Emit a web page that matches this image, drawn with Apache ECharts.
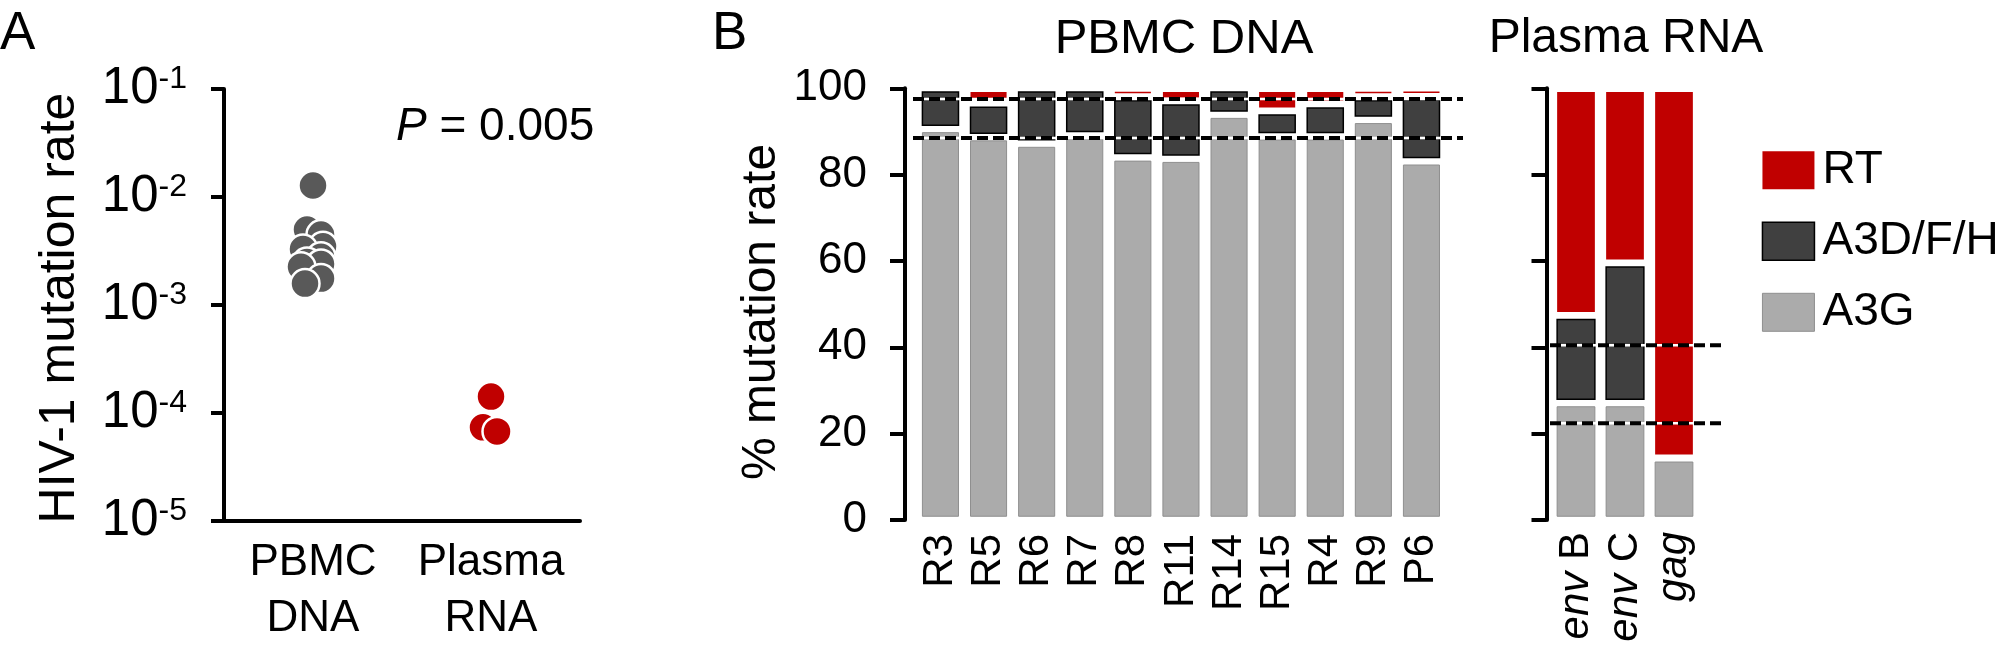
<!DOCTYPE html>
<html>
<head>
<meta charset="utf-8">
<title>HIV-1 mutation rate</title>
<script src="https://cdn.jsdelivr.net/npm/echarts@6/dist/echarts.min.js"></script>
<style>
html, body { margin: 0; padding: 0; background: #fff; }
#chart { width: 2000px; height: 647px; }
</style>
</head>
<body>
<div id="chart"></div>
<script>
// A: mutation rate per sample
var groupNames = ['PBMC\nDNA', 'Plasma\nRNA']
var pbmcRates = [0.0128, 0.0050, 0.0045, 0.0035, 0.0033, 0.0028, 0.0025, 0.0024, 0.00226, 0.00176, 0.00158]
var plasmaRates = [0.000142, 0.0000738, 0.0000676]
var pValue = '0.005'

// B: share of mutations (%)
var pbmcSamples = ['R3', 'R5', 'R6', 'R7', 'R8', 'R11', 'R14', 'R15', 'R4', 'R9', 'P6']
var pbmcA3G = [90.6, 88.7, 87.2, 89.1, 84.0, 83.7, 93.9, 88.9, 88.9, 92.7, 83.1]
var pbmcA3DFH = [9.4, 7.8, 12.8, 10.9, 14.0, 13.3, 6.1, 5.8, 7.4, 5.3, 15.1]
var pbmcRT = [0, 3.5, 0, 0, 2.0, 3.0, 0, 5.3, 3.7, 2.0, 1.8]
var plasmaGenes = ['env B', 'env C', 'gag']
var plasmaA3G = [27.1, 27.1, 14.3]
var plasmaA3DFH = [20.2, 32.4, 0]
var plasmaRT = [52.7, 40.5, 85.7]
var pbmcMeans = [97.5, 88.5] // dashed lines
var plasmaMeans = [40.5, 22.4]

var FONT = 'Liberation Sans, Arial, sans-serif'
var RED = '#c00000'
var DARK = '#404040'
var LIGHT = '#ababab'

// small sideways spread of the dots (px), style only
var pbmcSpread = [0, -6, 8, 10, -10, 8, -6, 8, -12, 8, -8]
var plasmaSpread = [0, -8, 6]

var chart = echarts.init(document.getElementById('chart'))

// stacked segment [index, low, high]
function segments (lowers, values) {
  return values.map(function (v, i) {
    var lo = 0
    lowers.forEach(function (arr) { lo += arr[i] })
    return [i, lo, lo + v]
  })
}

function segRenderer (ratio) {
  return function (params, api) {
    var lo = api.value(1), hi = api.value(2)
    if (hi - lo <= 0) return
    var p0 = api.coord([api.value(0), lo])
    var p1 = api.coord([api.value(0), hi])
    var w = api.size([1, 0])[0] * ratio
    var top = p1[1] + 3.75
    var bottom = p0[1] - 3.75
    if (bottom - top < 1.5) {
      var mid = (top + bottom) / 2
      top = mid - 0.75
      bottom = mid + 0.75
    }
    return {
      type: 'rect',
      shape: { x: p0[0] - w / 2, y: top, width: w, height: bottom - top },
      style: api.style()
    }
  }
}

var segStyles = {
  'RT': { color: RED, borderWidth: 0 },
  'A3D/F/H': { color: DARK, borderColor: '#000', borderWidth: 1.5 },
  'A3G': { color: LIGHT, borderColor: '#8f8f8f', borderWidth: 1 }
}

function barSeries (axisIdx, a3g, a3d, rt, ratio) {
  var parts = [
    { name: 'A3G', data: segments([], a3g) },
    { name: 'A3D/F/H', data: segments([a3g], a3d) },
    { name: 'RT', data: segments([a3g, a3d], rt) }
  ]
  return parts.map(function (p) {
    return {
      name: p.name,
      type: 'custom',
      xAxisIndex: axisIdx,
      yAxisIndex: axisIdx,
      renderItem: segRenderer(ratio),
      encode: { x: 0, y: [1, 2] },
      itemStyle: segStyles[p.name],
      data: p.data
    }
  })
}

function meanLines (axisIdx, means) {
  var out = []
  means.forEach(function (m) {
    var pts = [[0, m], [1, m]]
    out.push({
      type: 'line', xAxisIndex: axisIdx, yAxisIndex: axisIdx, z: 5,
      symbol: 'none', silent: true, data: pts,
      lineStyle: { color: '#fff', width: 2.5 }
    })
    out.push({
      type: 'line', xAxisIndex: axisIdx, yAxisIndex: axisIdx, z: 6,
      symbol: 'none', silent: true, data: pts,
      lineStyle: { color: '#000', width: 4, type: [11, 5] }
    })
  })
  return out
}

var axisLine = { show: true, lineStyle: { color: '#000', width: 4 } }
var pctAxis = {
  type: 'value', min: 0, max: 100, interval: 20,
  axisLine: axisLine,
  axisTick: { show: true, length: 15, lineStyle: { color: '#000', width: 4 } },
  splitLine: { show: false }
}

// 10 with the exponent raised
function powerLabel (v) {
  var e = Math.round(Math.log10(v))
  return '10{s|' + e + '}'
}

var option = {
  animation: false,
  backgroundColor: '#fff',
  textStyle: { fontFamily: FONT, color: '#000' },
  grid: [
    { left: 224, top: 89.1, width: 356, height: 439.5 },
    { left: 916.4, top: 88.3, width: 529.1, height: 431.7 },
    { left: 1551.5, top: 88.3, width: 147, height: 431.7 },
    { left: 913, top: 88.3, width: 550, height: 431.7 },
    { left: 1550, top: 88.3, width: 173, height: 431.7 }
  ],
  xAxis: [
    {
      gridIndex: 0, type: 'category', data: groupNames,
      axisLine: axisLine, axisTick: { show: false },
      axisLabel: { interval: 0, fontSize: 44, lineHeight: 56, margin: 14, color: '#000', fontFamily: FONT }
    },
    {
      gridIndex: 1, type: 'category', data: pbmcSamples,
      axisLine: { show: false }, axisTick: { show: false },
      axisLabel: { interval: 0, rotate: 90, fontSize: 42, margin: 14, color: '#000', fontFamily: FONT }
    },
    {
      gridIndex: 2, type: 'category', data: plasmaGenes,
      axisLine: { show: false }, axisTick: { show: false },
      axisLabel: {
        interval: 0, rotate: 90, fontSize: 42, margin: 12, color: '#000', fontFamily: FONT,
        formatter: function (v) {
          var parts = v.split(' ')
          return '{i|' + parts[0] + '}' + (parts[1] ? ' ' + parts[1] : '')
        },
        rich: { i: { fontStyle: 'italic', fontSize: 42, fontFamily: FONT } }
      }
    },
    { gridIndex: 3, type: 'value', min: 0, max: 1, show: false },
    { gridIndex: 4, type: 'value', min: 0, max: 1, show: false }
  ],
  yAxis: [
    {
      gridIndex: 0, type: 'log', logBase: 10, min: 0.00001, max: 0.1,
      axisLine: axisLine,
      axisTick: { show: true, length: 13, lineStyle: { color: '#000', width: 4 } },
      minorTick: { show: false },
      splitLine: { show: false },
      axisLabel: {
        margin: 37, color: '#000', fontSize: 51, fontFamily: FONT,
        formatter: powerLabel,
        rich: {
          s: { fontSize: 32, fontFamily: FONT, color: '#000', verticalAlign: 'top' }
        }
      }
    },
    Object.assign({}, pctAxis, {
      gridIndex: 1, offset: 11.4,
      axisLabel: { fontSize: 44, margin: 38, color: '#000', fontFamily: FONT }
    }),
    Object.assign({}, pctAxis, {
      gridIndex: 2, offset: 5,
      axisLabel: { show: false }
    }),
    { gridIndex: 3, type: 'value', min: 0, max: 100, show: false },
    { gridIndex: 4, type: 'value', min: 0, max: 100, show: false }
  ],
  legend: {
    orient: 'vertical',
    left: 1756.7,
    top: 142.3,
    itemWidth: 52,
    itemHeight: 38,
    itemGap: 25,
    icon: 'rect',
    textStyle: { fontSize: 46, lineHeight: 38, color: '#000', fontFamily: FONT, padding: [0, 0, 0, 3] },
    data: [
      { name: 'RT', itemStyle: segStyles['RT'] },
      { name: 'A3D/F/H', itemStyle: segStyles['A3D/F/H'] },
      { name: 'A3G', itemStyle: segStyles['A3G'] }
    ]
  },
  graphic: [
    { type: 'text', left: 0, top: 8, style: { text: 'A', fontSize: 53, fontFamily: FONT, fill: '#000' } },
    { type: 'text', left: 712, top: 8, style: { text: 'B', fontSize: 53, fontFamily: FONT, fill: '#000' } },
    {
      type: 'text', x: 396, y: 127.5,
      style: {
        text: '{i|P} = ' + pValue, fontSize: 46, fontFamily: FONT, fill: '#000', verticalAlign: 'middle',
        rich: { i: { fontStyle: 'italic', fontSize: 46, fontFamily: FONT } }
      }
    },
    { type: 'text', x: 1184, y: 39, style: { text: 'PBMC DNA', fontSize: 49, fontFamily: FONT, fill: '#000', align: 'center', verticalAlign: 'middle' } },
    { type: 'text', x: 1626, y: 39, style: { text: 'Plasma RNA', fontSize: 48, fontFamily: FONT, fill: '#000', align: 'center', verticalAlign: 'middle' } },
    { type: 'text', x: 60, y: 308, rotation: Math.PI / 2, style: { text: 'HIV-1 mutation rate', fontSize: 50, fontFamily: FONT, fill: '#000', align: 'center', verticalAlign: 'middle' } },
    { type: 'text', x: 762, y: 312, rotation: Math.PI / 2, style: { text: '% mutation rate', fontSize: 48, fontFamily: FONT, fill: '#000', align: 'center', verticalAlign: 'middle' } }
  ],
  series: [
    {
      type: 'scatter', xAxisIndex: 0, yAxisIndex: 0, symbolSize: 29,
      itemStyle: { color: '#595959', borderColor: '#fff', borderWidth: 2.5, opacity: 1 },
      data: pbmcRates.map(function (v, i) {
        return { value: [0, v], symbolOffset: [pbmcSpread[i], 0] }
      })
    },
    {
      type: 'scatter', xAxisIndex: 0, yAxisIndex: 0, symbolSize: 29,
      itemStyle: { color: RED, borderColor: '#fff', borderWidth: 2.5, opacity: 1 },
      data: plasmaRates.map(function (v, i) {
        return { value: [1, v], symbolOffset: [plasmaSpread[i], 0] }
      })
    }
  ]
    .concat(barSeries(1, pbmcA3G, pbmcA3DFH, pbmcRT, 0.75))
    .concat(barSeries(2, plasmaA3G, plasmaA3DFH, plasmaRT, 0.77))
    .concat(meanLines(3, pbmcMeans))
    .concat(meanLines(4, plasmaMeans))
}

chart.setOption(option)
</script>
</body>
</html>
